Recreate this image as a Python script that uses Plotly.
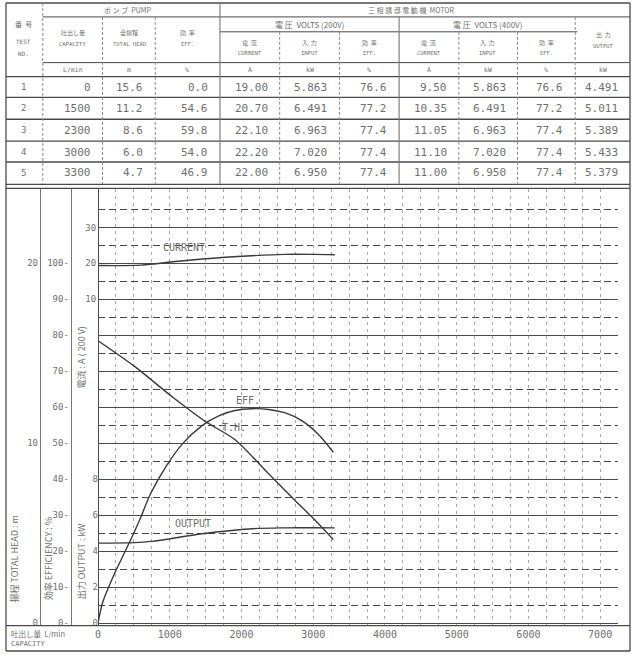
import plotly.graph_objects as go

W, H = 632, 657
def X(p): return p / W
def Y(p): return 1 - p / H

# ---------------- table data (test record) ----------------
test_no = [1, 2, 3, 4, 5]
capacity = [0, 1500, 2300, 3000, 3300]            # L/min
total_head = [15.6, 11.2, 8.6, 6.0, 4.7]          # m
pump_eff = [0.0, 54.6, 59.8, 54.0, 46.9]          # %
current_200v = [19.00, 20.70, 22.10, 22.20, 22.00]  # A
input_200v = [5.863, 6.491, 6.963, 7.020, 6.950]  # kW
eff_200v = [76.6, 77.2, 77.4, 77.4, 77.4]         # %
current_400v = [9.50, 10.35, 11.05, 11.10, 11.00]
input_400v = [5.863, 6.491, 6.963, 7.020, 6.950]
eff_400v = [76.6, 77.2, 77.4, 77.4, 77.4]
output_kw = [4.491, 5.011, 5.389, 5.433, 5.379]

# ---------------- curves ----------------
eff_flow = [0, 60, 230, 410, 580, 730, 940, 1170, 1450, 1690, 1910, 2140, 2380, 2600, 2840, 3070, 3280]
eff_curve = [0, 5.5, 13.8, 21.3, 28.7, 35.9, 43.3, 49.7, 54.9, 57.7, 59.1, 59.6, 59.4, 58.5, 56.3, 52.5, 47.5]

head_flow = [0, 500, 1060, 1500, 1910, 2380, 2740, 3020, 3280]
head_curve = [15.7, 14.3, 12.5, 11.2, 10.2, 8.3, 6.85, 5.75, 4.65]

current_flow = [0, 600, 1075, 1450, 2140, 2600, 3000, 3300]
current_curve = [19.4, 19.5, 20.5, 21.2, 22.1, 22.5, 22.5, 22.4]

output_flow = [0, 500, 750, 1450, 2150, 2600, 3000, 3300]
output_curve = [4.45, 4.48, 4.55, 4.97, 5.25, 5.30, 5.31, 5.30]

# ---------------- tick labels ----------------
head_ticks = [0, 10, 20]
eff_ticks = [0, 10, 20, 30, 40, 50, 60, 70, 80, 90, 100]
eff_grid_major = [0, 10, 20, 30, 40, 50, 60, 70, 80, 90, 100, 110]
eff_grid_minor = [5, 15, 25, 35, 45, 55, 65, 75, 85, 95, 105, 115]
output_ticks = [0, 2, 4, 6, 8]
current_ticks = [10, 20, 30]

MONO = "DejaVu Sans Mono, Noto Sans CJK JP"
CJK = "Noto Sans CJK JP, DejaVu Sans Mono"
TXT = "#707070"
LINE = "#4a4a4a"

# plot geometry (pixels)
PL, PR, PT, PB = 95.5, 618, 190, 628.5
E0, E1 = -0.4, 120.7   # efficiency-scale range

fig = go.Figure()
curve_line = dict(color="#3a3a3a", width=1.4, shape="spline", smoothing=0.8)
fig.add_trace(go.Scatter(x=eff_flow, y=eff_curve, yaxis="y", mode="lines", line=curve_line, hoverinfo="skip"))
fig.add_trace(go.Scatter(x=head_flow, y=head_curve, yaxis="y3", mode="lines", line=curve_line, hoverinfo="skip"))
fig.add_trace(go.Scatter(x=current_flow, y=current_curve, yaxis="y4", mode="lines", line=curve_line, hoverinfo="skip"))
fig.add_trace(go.Scatter(x=output_flow, y=output_curve, yaxis="y5", mode="lines", line=curve_line, hoverinfo="skip"))

dom_y = [Y(PB), Y(PT)]
tickfont = dict(family=MONO, size=9, color=TXT)
common_free = dict(overlaying="y", anchor="free", side="left", showgrid=False,
                   zeroline=False, ticks="", tickmode="array", tickfont=tickfont)

eff_text = [f"{v}-" if v in eff_ticks else "" for v in eff_grid_major]

fig.update_layout(
    width=W, height=H, margin=dict(l=0, r=0, t=0, b=0),
    paper_bgcolor="white", plot_bgcolor="white", showlegend=False,
    xaxis=dict(domain=[X(PL), X(PR)], range=[0, 7250], tickmode="linear", tick0=0, dtick=1000,
               showgrid=True, gridcolor="#a8a8a8", griddash="3px,4px", gridwidth=1,
               minor=dict(tick0=0, dtick=250, showgrid=True, gridcolor="#a8a8a8", griddash="3px,4px", gridwidth=1),
               zeroline=False, showline=True, linecolor=LINE, linewidth=1.2, ticks="",
               tickfont=dict(family=MONO, size=10, color=TXT), anchor="y"),
    yaxis=dict(domain=dom_y, range=[E0, E1], tickmode="array", tickvals=eff_grid_major, ticktext=eff_text,
               showgrid=True, gridcolor=LINE, gridwidth=1.1,
               minor=dict(tickmode="array", tickvals=eff_grid_minor, showgrid=True, gridcolor=LINE,
                          griddash="7px,4px", gridwidth=1.1),
               tickfont=tickfont, zeroline=False, showline=True, linecolor="#777", linewidth=1,
               ticks="", anchor="free", position=X(68), side="left"),
    yaxis3=dict(common_free, position=X(37), range=[E0 / 5, E1 / 5], tickvals=head_ticks,
                showline=True, linecolor="#777", linewidth=1),
    yaxis4=dict(common_free, position=X(PL), range=[E0 - 80, E1 - 80], tickvals=current_ticks,
                showline=True, linecolor=LINE, linewidth=1.2),
    yaxis5=dict(common_free, position=X(PL), range=[E0 / 5, E1 / 5], tickvals=output_ticks, showline=False),
)

shapes = []
def hline(y, x0, x1, w=1.0, c=LINE, dash=None):
    d = dict(type="line", xref="paper", yref="paper", x0=X(x0), x1=X(x1), y0=Y(y), y1=Y(y),
             line=dict(color=c, width=w))
    if dash: d["line"]["dash"] = dash
    shapes.append(d)
def vline(x, y0, y1, w=1.0, c=LINE, dash=None):
    d = dict(type="line", xref="paper", yref="paper", x0=X(x), x1=X(x), y0=Y(y0), y1=Y(y1),
             line=dict(color=c, width=w))
    if dash: d["line"]["dash"] = dash
    shapes.append(d)

L, R = 3, 630
hline(3, L, R, 1.3)
hline(17, 40, R)
hline(32, 218, 577)
hline(63, 40, R)
hline(77, L, R, 1.3)
for yy in [98, 120, 142, 163]:
    hline(yy, L, R, 1.4)
hline(185.5, L, R, 1.3)
hline(189.5, L, R, 1.3)
hline(629.5, L, R, 1.2)
hline(655, L, R, 1.3)
vline(L, 3, 655, 1.3)
vline(R, 3, 655, 1.3)
vc = "#8a8a8a"
vline(40, 3, 185, 1, vc, "3px,2px")
vline(100, 17, 185, 1, vc, "3px,2px")
vline(153, 17, 185, 1, vc, "3px,2px")
vline(218, 3, 185, 1.1, "#777")
vline(278, 32, 185, 1, vc, "3px,2px")
vline(338, 32, 185, 1, vc, "3px,2px")
vline(398, 17, 185, 1.1, "#777")
vline(458, 32, 185, 1, vc, "3px,2px")
vline(517, 32, 185, 1, vc, "3px,2px")
vline(575, 17, 185, 1, vc, "3px,2px")
fig.update_layout(shapes=shapes)

ann = []
def txt(s, x, y, size=7, fam=MONO, anchor="center", color=TXT, angle=0):
    ann.append(dict(text=s, x=X(x), y=Y(y), xref="paper", yref="paper", showarrow=False,
                    xanchor=anchor, yanchor="middle", textangle=angle,
                    font=dict(family=fam, size=size, color=color)))

txt("番  号", 21, 24, 7, CJK)
txt("TEST", 21, 42, 6)
txt("NO.", 21, 54, 6)
txt("ポ ン プ  PUMP", 125, 10, 7, CJK)
txt("三 相 誘 導 電 動 機  MOTOR", 410, 10, 7, CJK)
txt("電 圧  VOLTS (200V)", 308, 25, 8, CJK)
txt("電 圧  VOLTS (400V)", 487, 25, 8, CJK)
pump_heads = [("吐出し量", "CAPACITY", 70), ("全揚程", "TOTAL HEAD", 127), ("効  率", "EFF.", 185)]
for jp, en, xc in pump_heads:
    txt(jp, xc, 33, 6, CJK)
    txt(en, xc, 44, 5.5)
motor_heads = [("電  流", "CURRENT", 248), ("入  力", "INPUT", 308), ("効  率", "EFF.", 368),
               ("電  流", "CURRENT", 428), ("入  力", "INPUT", 487), ("効  率", "EFF.", 546)]
for jp, en, xc in motor_heads:
    txt(jp, xc, 43, 6, CJK)
    txt(en, xc, 53, 5.5)
txt("出  力", 603, 35, 6, CJK)
txt("OUTPUT", 603, 46, 5.5)
units = ["L/min", "m", "%", "A", "kW", "%", "A", "kW", "%", "kW"]
unit_x = [70, 127, 185, 248, 308, 368, 428, 487, 546, 603]
for u, xc in zip(units, unit_x):
    txt(u, xc, 70, 6.5)

row_y = [88, 109, 131, 153, 174]
cols = [(capacity, "{:d}", 100), (total_head, "{:.1f}", 153), (pump_eff, "{:.1f}", 218),
        (current_200v, "{:.2f}", 278), (input_200v, "{:.3f}", 338), (eff_200v, "{:.1f}", 398),
        (current_400v, "{:.2f}", 458), (input_400v, "{:.3f}", 517), (eff_400v, "{:.1f}", 575),
        (output_kw, "{:.3f}", R)]
for i, yy in enumerate(row_y):
    txt(str(test_no[i]), 21, yy, 9)
    for vals, fmt, right in cols:
        txt(fmt.format(vals[i]), right - 10, yy, 11, anchor="right")

txt("揚程 TOTAL HEAD : m", 12, 562, 9, CJK, angle=-90)
txt("効率 EFFICIENCY : %", 46, 562, 9, CJK, angle=-90)
txt("出力 OUTPUT : kW", 79, 565, 9, CJK, angle=-90)
txt("電流 : A ( 200 V)", 79, 360, 9, CJK, angle=-90)

txt("吐出し量  L/min", 6, 637, 7.5, CJK, anchor="left")
txt("CAPACITY", 6, 648, 7, anchor="left")

curve_labels = [("CURRENT", 1200, 24.3, "y4"), ("EFF.", 2090, 61.8, "y"),
                ("T.H.", 1900, 10.9, "y3"), ("OUTPUT", 1330, 5.55, "y5")]
for s, xv, yv, yr in curve_labels:
    ann.append(dict(text=s, x=xv, y=yv, xref="x", yref=yr, showarrow=False,
                    font=dict(family=MONO, size=10, color=TXT)))

fig.update_layout(annotations=ann)
fig.write_html("out.html", post_script="document.body.style.margin='0px';",
               config={"displayModeBar": False})
